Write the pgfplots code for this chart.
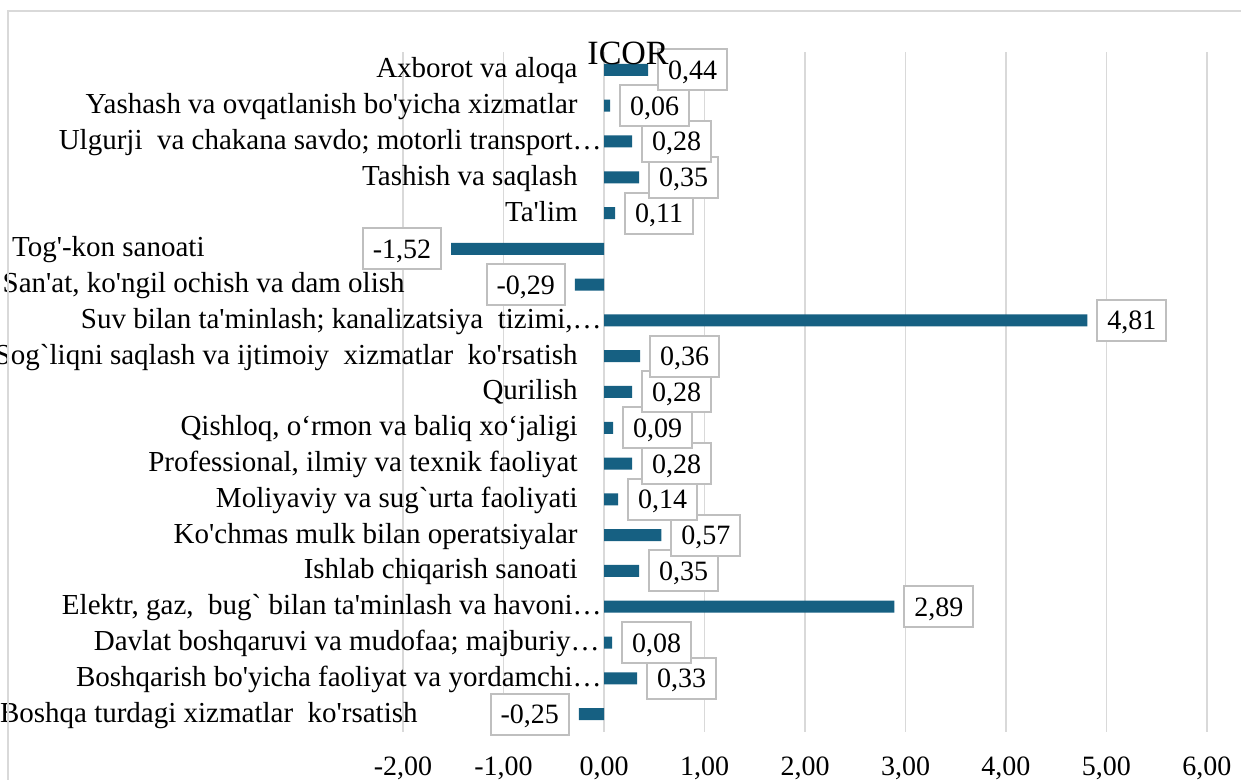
\documentclass[border=0pt]{standalone}
\usepackage{fontspec}
\setmainfont{Liberation Serif}[Ligatures=TeXOff]
\usepackage{pgfplots}
\pgfplotsset{compat=1.18}
\definecolor{barcol}{RGB}{22,96,130}
\definecolor{gridcol}{RGB}{217,217,217}
\definecolor{boxcol}{RGB}{191,191,191}
\newcommand{\lblfont}{\fontsize{14.5}{16}\selectfont}
\newcommand{\numfont}{\fontsize{14}{16}\selectfont}
\begin{document}
\begin{tikzpicture}
\draw[gridcol, line width=0.75pt] (4pt,-10pt) |- (700pt,384.5pt);
\begin{axis}[
  set layers,
  at={(201.5pt,24pt)}, anchor=south west,
  scale only axis, width=402pt, height=340pt,
  xbar, bar width=6pt,
  xmin=-2, xmax=6, ymin=-0.5, ymax=18.5,
  xtick={-2,-1,0,1,2,3,4,5,6},
  ytick={0,1,2,3,4,5,6,7,8,9,10,11,12,13,14,15,16,17,18},
  yticklabels={
    {Boshqa turdagi xizmatlar\ \ ko'rsatish\hspace*{80pt}},
    {Boshqarish bo'yicha faoliyat va yordamchi…\hspace*{-12pt}},
    {Davlat boshqaruvi va mudofaa; majburiy…\hspace*{-11pt}},
    {Elektr, gaz,\ \ bug` bilan ta'minlash va havoni…\hspace*{-12pt}},
    {Ishlab chiqarish sanoati},
    {Ko'chmas mulk bilan operatsiyalar},
    {Moliyaviy va sug`urta faoliyati},
    {Professional, ilmiy va texnik faoliyat},
    {Qishloq, o‘rmon va baliq xo‘jaligi},
    {Qurilish},
    {Sog`liqni saqlash va ijtimoiy\ \ xizmatlar\ \ ko'rsatish},
    {Suv bilan ta'minlash; kanalizatsiya\ \ tizimi,…\hspace*{-12pt}},
    {San'at, ko'ngil ochish va dam olish\hspace*{86.5pt}},
    {Tog'-kon sanoati\hspace*{186.5pt}},
    {Ta'lim},
    {Tashish va saqlash},
    {Ulgurji\ \ va chakana savdo; motorli transport…\hspace*{-12pt}},
    {Yashash va ovqatlanish bo'yicha xizmatlar},
    {Axborot va aloqa}
  },
  axis line style={draw=none},
  major tick length=0pt,
  xmajorgrids, ymajorgrids=false,
  major grid style={gridcol, line width=0.75pt},
  /pgf/number format/fixed,
  /pgf/number format/fixed zerofill,
  /pgf/number format/precision=2,
  /pgf/number format/use comma,
  /pgf/number format/assume math mode=true,
  yticklabel style={font=\lblfont, anchor=base east, inner sep=0pt, xshift=87.5pt, yshift=-4pt},
  xticklabel style={font=\numfont, anchor=base, inner sep=0pt, yshift=-21.75pt},
  title={ICOR},
  title style={at={(0.2799,1)}, anchor=base, font=\fontsize{17}{20}\selectfont, yshift=-12.5pt, inner sep=0pt},
  nodes near coords,
  nodes near coords style={font=\numfont, draw=boxcol, line width=1pt, fill=white,
    inner xsep=5pt, inner ysep=5.5pt, text height=9.5pt, text depth=0pt,
    outer xsep=5pt, outer ysep=0pt},
]
\addplot[draw=none, fill=barcol] coordinates {
  (-0.25,0) (0.33,1) (0.08,2) (2.89,3) (0.35,4) (0.57,5) (0.14,6)
  (0.28,7) (0.09,8) (0.28,9) (0.36,10) (4.81,11) (-0.29,12) (-1.52,13)
  (0.11,14) (0.35,15) (0.28,16) (0.06,17) (0.44,18)
};
\end{axis}
\pgfresetboundingbox
\useasboundingbox (0,0) rectangle (620.5pt,390pt);
\end{tikzpicture}
\end{document}
